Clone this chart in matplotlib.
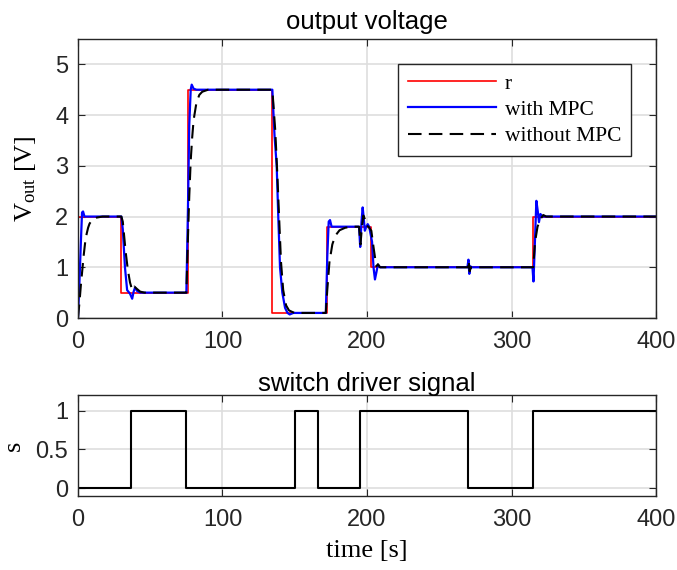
import matplotlib
matplotlib.use("Agg")
import matplotlib.pyplot as plt

plt.rcParams['font.family'] = ['Liberation Sans', 'DejaVu Sans']
plt.rcParams['mathtext.fontset'] = 'custom'
plt.rcParams['mathtext.rm'] = 'Liberation Serif'
plt.rcParams['mathtext.it'] = 'Liberation Serif:italic'

# reference signal (step breakpoints)
r_t = [0, 30, 76, 134.5, 172, 203, 315, 400]
r_v = [2.0, 0.5, 4.5, 0.1, 1.8, 1.0, 2.0, 2.0]

# output with MPC
mpc_t = [0, 1, 2, 2.8, 3.5, 4.5, 30, 31, 32.5, 34, 36, 37.5, 38.5, 39.5, 41, 43,
         75, 76, 77, 78, 78.7, 80, 82, 134.5, 136, 137.5, 138.6, 139.8, 141.4, 143.3,
         145, 146.5, 149, 171.5, 172.5, 173.5, 174.4, 175.5, 194.5, 195.3, 196.2, 197,
         197.8, 198.5, 199.5, 200.5, 201.5, 203.5, 204.5, 205.5, 206.5, 207.5, 209,
         269.5, 270.2, 270.8, 271.5, 272.5, 314.5, 315.2, 316.2, 317.2, 318.2, 319,
         320, 321.5, 400]
mpc_v = [0, 0.7, 1.5, 2.08, 2.1, 2.0, 2.0, 1.75, 1.0, 0.55, 0.48, 0.38, 0.52, 0.6, 0.53, 0.5,
         0.5, 2.0, 3.8, 4.5, 4.6, 4.52, 4.5, 4.5, 3.6, 3.0, 2.0, 1.0, 0.5, 0.2,
         0.1, 0.07, 0.1, 0.1, 1.2, 1.9, 1.93, 1.8, 1.8, 1.4, 1.9, 2.18,
         1.95, 1.72, 1.8, 1.85, 1.8, 1.5, 1.0, 0.76, 0.9, 1.05, 1.0,
         1.0, 1.15, 0.87, 1.02, 1.0, 1.0, 0.72, 1.5, 2.31, 2.1, 1.89,
         2.05, 2.0, 2.0]

# output without MPC
nompc_t = [0, 1, 2, 3, 4, 5, 6, 7, 8, 10, 13, 17, 30, 31, 32, 33, 34.5, 36, 37.5, 39, 40.5,
           43, 46, 75, 76, 77, 78, 79, 80, 82, 84, 86, 90, 134.5, 136.5, 138, 139.3, 140.5,
           142, 144, 146, 149, 152, 171.5, 172.5, 174, 176, 178, 181, 185, 190, 194.5,
           195.5, 196.5, 197.5, 198.5, 199.5, 201, 203, 204, 205.5, 206.5, 207.6, 209,
           269.8, 270.4, 271, 272, 315, 316.3, 318, 320, 322, 324, 400]
nompc_v = [0, 0.3, 0.65, 0.95, 1.25, 1.5, 1.66, 1.78, 1.86, 1.94, 1.98, 2.0, 2.0, 1.9, 1.6, 1.3,
           0.95, 0.7, 0.55, 0.62, 0.58, 0.52, 0.5, 0.5, 1.5, 2.4, 3.1, 3.55, 3.9, 4.25, 4.4,
           4.46, 4.5, 4.5, 3.7, 2.8, 1.9, 1.1, 0.55, 0.25, 0.15, 0.11, 0.1, 0.1, 0.55, 1.1,
           1.45, 1.62, 1.73, 1.78, 1.8, 1.8, 1.45, 1.8, 2.02, 1.95, 1.82, 1.8, 1.72, 1.5,
           1.2, 1.02, 1.06, 1.0, 1.0, 1.13, 0.92, 1.0, 1.0, 1.5, 1.8, 1.95, 2.03, 2.0, 2.0]

# switch driver signal (step breakpoints)
s_t = [0, 37, 75, 150, 166, 195, 270, 315, 400]
s_v = [0, 1, 0, 1, 0, 1, 0, 1, 1]

x_ticks = [0, 100, 200, 300, 400]
y1_ticks = [0, 1, 2, 3, 4, 5]
y2_ticks = [0, 0.5, 1]

axc = '0.15'
gridc = '0.87'
serif = ['Liberation Serif', 'DejaVu Serif']
tick_fs = 17
title_fs = 18.5
label_fs = 19

fig = plt.figure(figsize=(6.77, 5.70), dpi=100)
ax1 = fig.add_axes([0.1152, 0.4421, 0.8538, 0.4895])
ax2 = fig.add_axes([0.1152, 0.1298, 0.8538, 0.1772])

def style(ax):
    for s in ax.spines.values():
        s.set_color(axc)
        s.set_linewidth(1.0)
    ax.tick_params(direction='in', top=True, right=True, length=5, width=0.8,
                   color=axc, labelcolor=axc, labelsize=tick_fs)
    ax.tick_params(axis='x', pad=9)
    ax.tick_params(axis='y', pad=7)
    ax.grid(True, color=gridc, linewidth=1.2)
    ax.set_axisbelow(True)

style(ax1)
style(ax2)

ax1.step(r_t, r_v, where='post', color=(1, 0, 0), lw=1.2, label='r')
ax1.plot(mpc_t, mpc_v, color=(0, 0, 1), lw=1.6, label='with MPC')
ax1.plot(nompc_t, nompc_v, color='k', lw=1.5, dashes=(6.5, 3.5), label='without MPC')
ax1.set_xlim(0, 400)
ax1.set_ylim(0, 5.5)
ax1.set_xticks(x_ticks)
ax1.set_yticks(y1_ticks)
ax1.set_title('output voltage', fontsize=title_fs, color='k', pad=7)
ax1.set_ylabel(r'V$_{\rm out}$ [V]', fontsize=label_fs, family=serif, labelpad=12)
leg = ax1.legend(loc='upper right', bbox_to_anchor=(0.957, 0.910), borderaxespad=0,
                 fancybox=False, edgecolor=axc, framealpha=1, handlelength=4.1,
                 borderpad=0.45, labelspacing=0.28, handletextpad=0.4,
                 prop={'family': serif, 'size': 15.5})
leg.get_frame().set_linewidth(1.0)

ax2.step(s_t, s_v, where='post', color='k', lw=1.5)
ax2.set_xlim(0, 400)
ax2.set_ylim(-0.1, 1.2)
ax2.set_xticks(x_ticks)
ax2.set_yticks(y2_ticks)
ax2.set_yticklabels(['0', '0.5', '1'])
ax2.set_title('switch driver signal', fontsize=title_fs, color='k', pad=3)
ax2.set_ylabel('s', fontsize=label_fs, family=serif, labelpad=8)
ax2.set_xlabel('time [s]', fontsize=label_fs, family=serif, labelpad=7)

fig.savefig('out.png', dpi=100)
